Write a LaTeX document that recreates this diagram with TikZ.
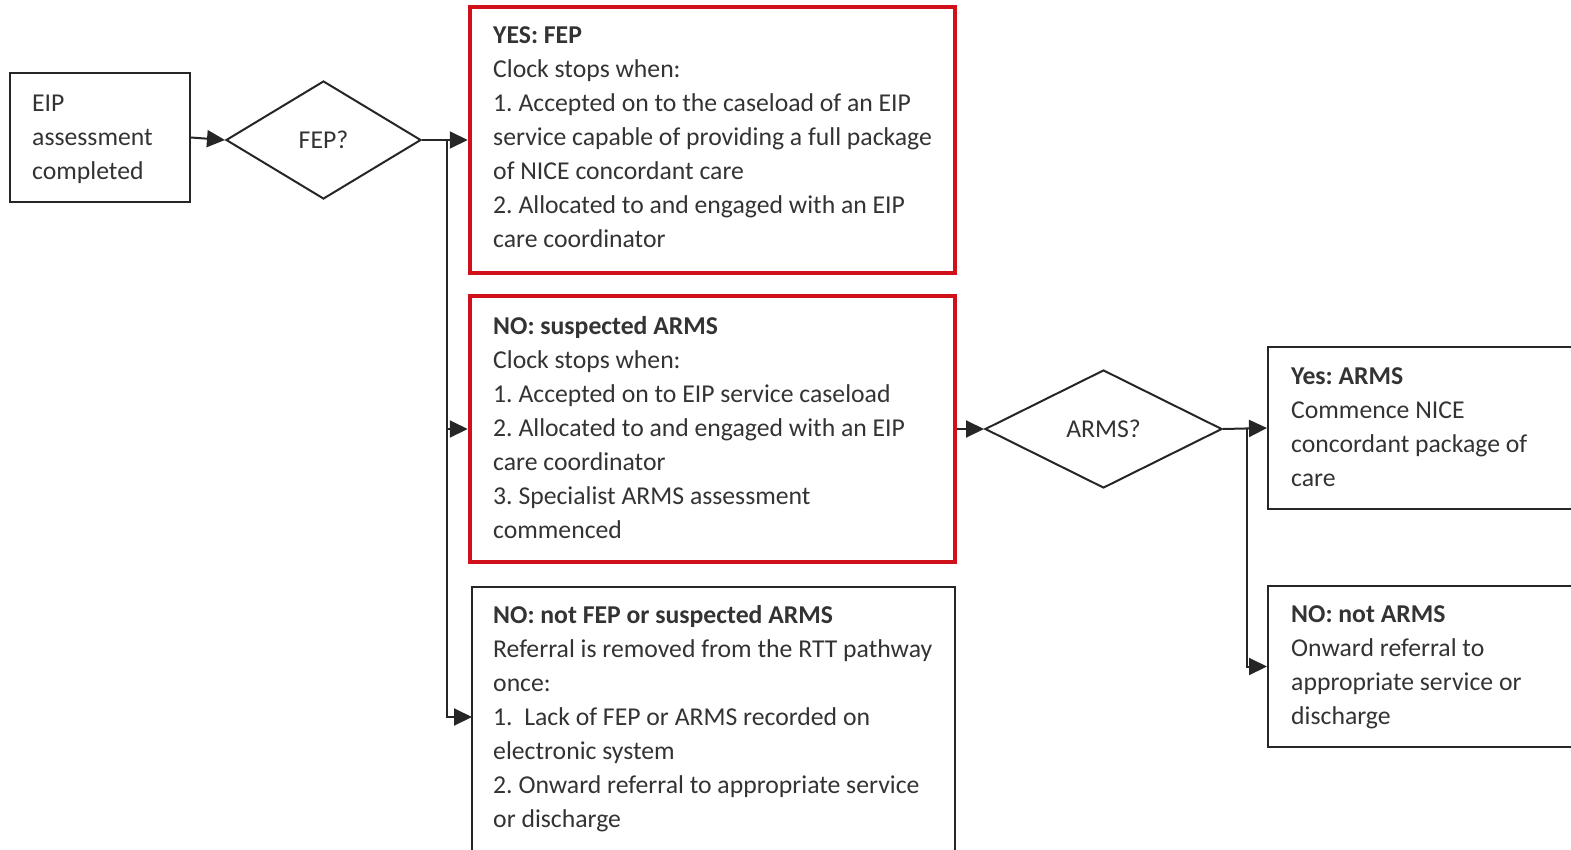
\documentclass[tikz,border=0pt]{standalone}
\usepackage{fontspec}
\setmainfont{Carlito}
\usetikzlibrary{shapes.geometric,arrows.meta}
\definecolor{txtc}{HTML}{333333}
\definecolor{redc}{HTML}{D0111B}
\tikzset{
  blackbox/.style={draw=black!85, line width=2pt, inner sep=0pt},
  redbox/.style={draw=redc, line width=4.5pt, inner sep=0pt},
  dec/.style={draw=black!85, line width=2pt, diamond, inner sep=0pt, text=txtc, font=\fontsize{25.7}{34}\selectfont\frenchspacing},
  txt/.style={anchor=north west, inner sep=0pt, align=left, text=txtc, font=\fontsize{25.7}{34}\selectfont\frenchspacing},
  conn/.style={draw=black!85, line width=2pt},
  arr/.style={conn, -{Triangle[length=18pt,width=17pt]}},
}
\begin{document}
\begin{tikzpicture}[x=1pt,y=-1pt]
\useasboundingbox (0,0) rectangle (1571,849);
\clip (0,0) rectangle (1571,849);
% boxes
\node[blackbox, minimum width=180pt, minimum height=129pt] (eip) at (100,137.5) {};
\node[txt] (eipt) at (32,111-23.8) {\strut EIP\\assessment\\completed};
\node[dec, minimum width=195pt, minimum height=118pt, aspect=1.65] (fep) at (323.5,140) {FEP?};
\node[redbox, minimum width=485pt, minimum height=266pt] (box1) at (712.5,140) {};
\node[txt] (b1t) at (493,43-23.8) {\strut\textbf{YES: FEP}\\Clock stops when:\\1. Accepted on to the caseload of an EIP\\service capable of providing a full package\\of NICE concordant care\\2. Allocated to and engaged with an EIP\\care coordinator};
\node[redbox, minimum width=485pt, minimum height=266pt] (box2) at (712.5,429) {};
\node[txt] (b2t) at (493,334-23.8) {\strut\textbf{NO: suspected ARMS}\\Clock stops when:\\1. Accepted on to EIP service caseload\\2. Allocated to and engaged with an EIP\\care coordinator\\3. Specialist ARMS assessment\\commenced};
\node[blackbox, minimum width=483pt, minimum height=280pt] (box3) at (713.5,727) {};
\node[txt] (b3t) at (493,623-23.8) {\strut\textbf{NO: not FEP or suspected ARMS}\\Referral is removed from the RTT pathway\\once:\\1.\ \ Lack of FEP or ARMS recorded on\\electronic system\\2. Onward referral to appropriate service\\or discharge};
\node[dec, minimum width=237pt, minimum height=118pt, aspect=2.0] (arms) at (1103.5,429) {ARMS?};
\node[blackbox, minimum width=320pt, minimum height=162pt] (yes) at (1428,428) {};
\node[txt] (yest) at (1291,384-23.8) {\strut\textbf{Yes: ARMS}\\Commence NICE\\concordant package of\\care};
\node[blackbox, minimum width=320pt, minimum height=161pt] (no) at (1428,666.5) {};
\node[txt] (not) at (1291,622-23.8) {\strut\textbf{NO: not ARMS}\\Onward referral to\\appropriate service or\\discharge};
% connectors
\coordinate (j1) at (447,140);
\coordinate (t3) at (472,717);
\coordinate (j2) at (1247,428);
\draw[arr] (eip.east) -- (fep.west);
\draw[arr] (fep.east) -- (box1.west);
\draw[arr] (j1) |- (box2.west);
\draw[arr] (j1) |- (t3);
\draw[arr] (box2.east) -- (arms.west);
\draw[arr] (arms.east) -- (yes.west);
\draw[arr] (j2) |- (no.west);
\end{tikzpicture}
\end{document}
